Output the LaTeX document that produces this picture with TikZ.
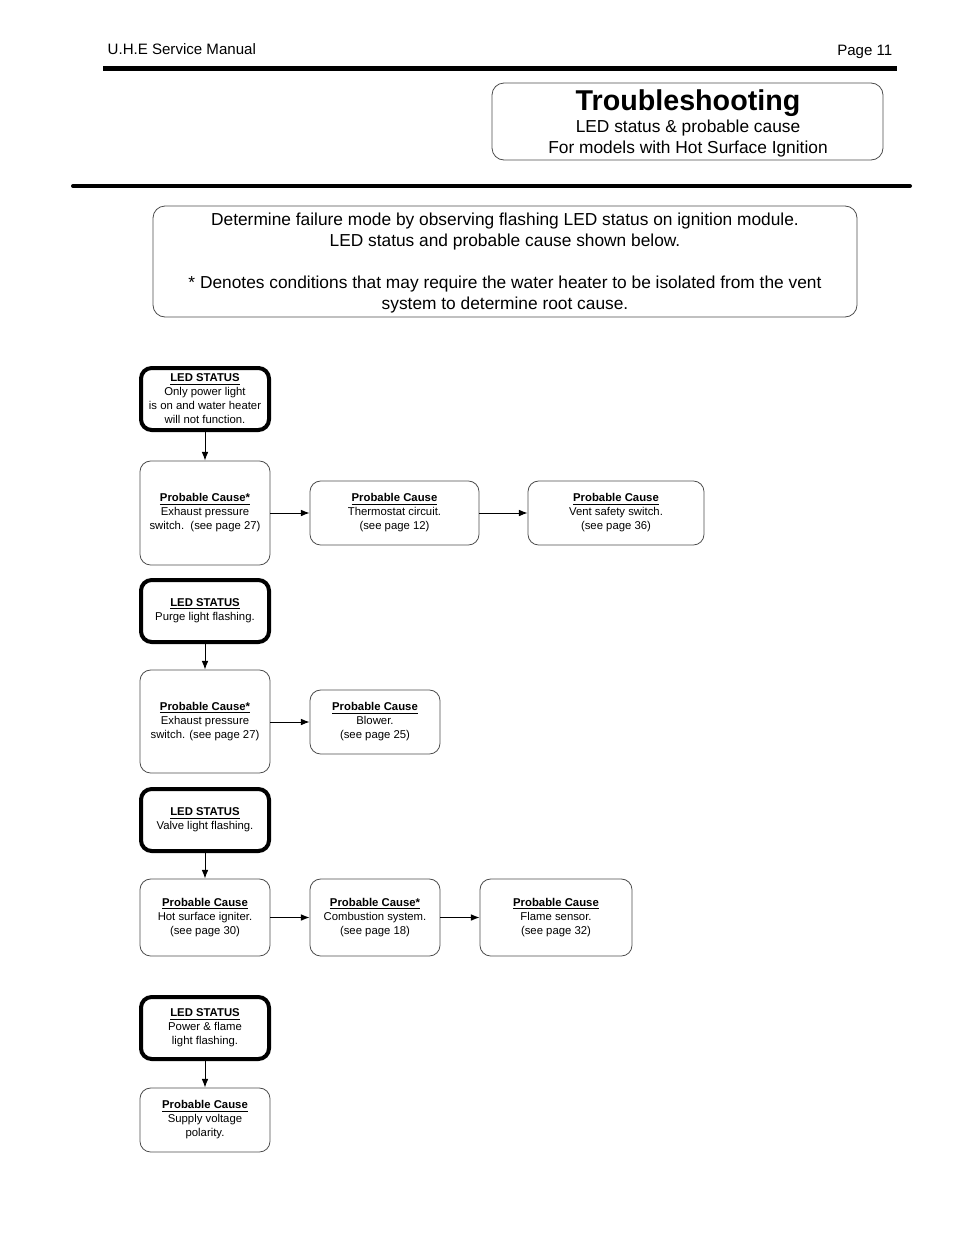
\documentclass[tikz,border=0pt]{standalone}
\usepackage{fontspec}
\setmainfont{Liberation Sans}
\usetikzlibrary{arrows.meta,positioning}
\tikzset{
  >={Latex[length=6.5pt,width=5pt]},
}
\tikzstyle{flow}=[->,line width=0.75pt]
\tikzstyle{ledbox}=[draw,line width=3pt,rounded corners=8pt,align=center,inner sep=0pt,
  minimum width=96pt,minimum height=46.5pt,font=\fontsize{8.5}{10.5}\selectfont]
\tikzstyle{causebox}=[draw=black!70,line width=0.6pt,rounded corners=8pt,align=center,inner sep=0pt,
  font=\fontsize{8.5}{10.5}\selectfont]
\tikzstyle{infobox}=[draw=black!70,line width=0.6pt,rounded corners=9pt,align=center,inner sep=0pt,
  font=\fontsize{13}{15.75}\selectfont]
\newcommand{\ledhead}{\underline{\textbf{LED STATUS}}}
\newcommand{\causehead}[1][]{\underline{\textbf{Probable Cause#1}}}

\begin{document}
\begin{tikzpicture}[x=0.75pt,y=-0.75pt]
    \useasboundingbox (0,0) rectangle (954,1235);
    % page header
    \node[anchor=base west,font=\fontsize{11.3}{14}\selectfont] (manual) at (103,54) {U.H.E Service Manual};
    \node[anchor=base east,font=\fontsize{11.3}{14}\selectfont] (page) at (897,55) {Page 11};
    \fill (103,66) rectangle (897,71);
    \draw[line width=3pt,line cap=round] (73,186) -- (910,186);
    % title block
    \draw[infobox] (492,83) rectangle (883,160);
    \node[anchor=base,font=\fontsize{21.5}{24}\selectfont\bfseries] (title) at (688,110.5) {Troubleshooting};
    \node[anchor=base,font=\fontsize{13}{15.75}\selectfont] (sub1) at (688,132.5) {LED status \& probable cause};
    \node[anchor=base,font=\fontsize{13}{15.75}\selectfont] (sub2) at (688,153.5) {For models with Hot Surface Ignition};
    \node[infobox,minimum width=528pt,minimum height=83.25pt] (info) at (505,261.5) {};
    \node[align=center,inner sep=0pt,font=\fontsize{13}{15.75}\selectfont] (infotext) at (505,263)
      {Determine failure mode by observing flashing LED status on ignition module.\\
       LED status and probable cause shown below.\\[15.75pt]
       * Denotes conditions that may require the water heater to be isolated from the vent\\
       system to determine root cause.};
    % power light
    \node[ledbox] (led1) at (205,399) {\ledhead\\Only power light\\is on and water heater\\will not function.};
    \node[causebox,minimum width=97.5pt,minimum height=78pt] (exh1) at (205,513)
      {\causehead[*]\\Exhaust pressure\\switch.\ \ (see page 27)};
    \node[causebox,minimum width=126.75pt,minimum height=48pt] (thermo) at (394.5,513)
      {\causehead\\Thermostat circuit.\\(see page 12)};
    \node[causebox,minimum width=132pt,minimum height=48pt] (vent) at (616,513)
      {\causehead\\Vent safety switch.\\(see page 36)};
    \draw[flow] (led1) -- (exh1);
    \draw[flow] (exh1) -- (thermo);
    \draw[flow] (thermo) -- (vent);
    % purge light
    \node[ledbox] (led2) at (205,611) {\ledhead\\Purge light flashing.};
    \node[causebox,minimum width=97.5pt,minimum height=77.25pt] (exh2) at (205,721.5)
      {\causehead[*]\\Exhaust pressure\\switch. (see page 27)};
    \node[causebox,minimum width=97.5pt,minimum height=48pt] (blower) at (375,722)
      {\causehead\\Blower.\\(see page 25)};
    \draw[flow] (led2) -- (exh2);
    \draw[flow] (exh2.east |- blower) -- (blower);
    % valve light
    \node[ledbox] (led3) at (205,820) {\ledhead\\Valve light flashing.};
    \node[causebox,minimum width=97.5pt,minimum height=57.75pt] (igniter) at (205,917.5)
      {\causehead\\Hot surface igniter.\\(see page 30)};
    \node[causebox,minimum width=97.5pt,minimum height=57.75pt] (combust) at (375,917.5)
      {\causehead[*]\\Combustion system.\\(see page 18)};
    \node[causebox,minimum width=114pt,minimum height=57.75pt] (flame) at (556,917.5)
      {\causehead\\Flame sensor.\\(see page 32)};
    \draw[flow] (led3) -- (igniter);
    \draw[flow] (igniter) -- (combust);
    \draw[flow] (combust) -- (flame);
    % power and flame light
    \node[ledbox] (led4) at (205,1028) {\ledhead\\Power \& flame\\light flashing.};
    \node[causebox,minimum width=97.5pt,minimum height=48pt] (polarity) at (205,1120)
      {\causehead\\Supply voltage\\polarity.};
    \draw[flow] (led4) -- (polarity);
\end{tikzpicture}
\end{document}
